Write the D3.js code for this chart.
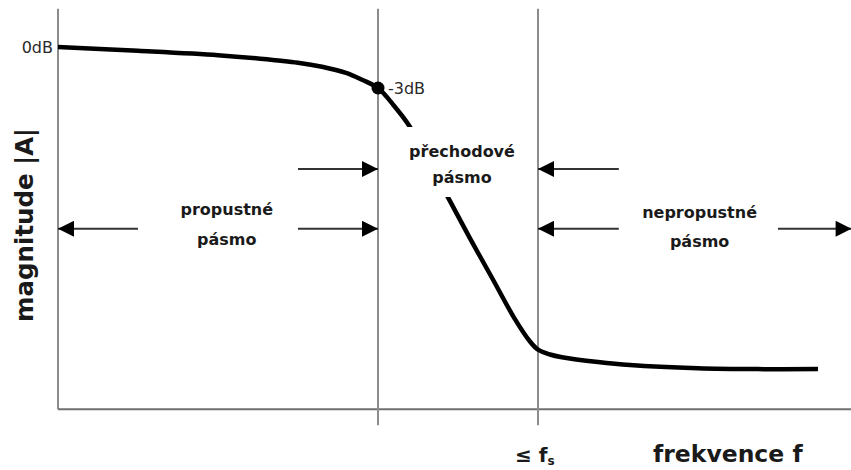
<!DOCTYPE html>
<html lang="cs">
<head>
<meta charset="UTF-8">
<title>Dolní propust – magnitudová charakteristika</title>
<script src="https://d3js.org/d3.v7.min.js"></script>
<style>
  body { margin: 0; background: #fff; }
  .lbl { font-family: "DejaVu Sans", Verdana, sans-serif; font-weight: bold; fill: #1a1a1a; }
  .small { font-family: "DejaVu Sans", Arial, sans-serif; fill: #2a2a2a; font-size: 16px; }
</style>
</head>
<body>
<div id="chart"></div>
<script>
// frequency (arbitrary units), magnitude in dB
const freq = [0, 10, 20, 25, 30, 33, 36, 38, 40, 42, 44, 46.5, 48.75, 51.5, 54.4, 57, 59, 60, 61.5, 63, 67.5, 71.5, 80, 87.5, 95];
const magDb = [0, -0.28, -0.6, -0.84, -1.15, -1.45, -1.9, -2.4, -3, -4.3, -5.85, -8.55, -11, -14, -17.05, -19.8, -21.55, -22.15, -22.5, -22.7, -23.05, -23.27, -23.5, -23.57, -23.57];
const fc = 40;   // -3 dB
const fs = 60;   // hranice nepropustného pásma

const bandLabels = [
  { lines: ["propustné", "pásmo"], f: 21.1, y: -12.3, gap: 30 },
  { lines: ["přechodové", "pásmo"], f: 50.5, y: -8.05, gap: 26 },
  { lines: ["nepropustné", "pásmo"], f: 80.2, y: -12.5, gap: 29 }
];
// arrows: y in dB, from -> to (frequency)
const arrows = [
  { y: -13.3, from: 10, to: 0 },
  { y: -13.3, from: 30, to: fc },
  { y: -8.93, from: 30, to: fc },
  { y: -8.93, from: 70.1, to: fs },
  { y: -13.3, from: 70.1, to: fs },
  { y: -13.3, from: 90, to: 99.2 }
];

const W = 851, H = 470;
const x = d3.scaleLinear().domain([0, 100]).range([58, 858]);
const y = d3.scaleLinear().domain([0, -3]).range([47, 88]);
const yBottom = -26.5, yTop = 2.8;

const svg = d3.select("#chart").append("svg")
  .attr("width", W).attr("height", H);

svg.append("defs").append("marker")
  .attr("id", "head")
  .attr("viewBox", "0 0 10 10")
  .attr("refX", 10).attr("refY", 5)
  .attr("markerWidth", 17).attr("markerHeight", 16)
  .attr("markerUnits", "userSpaceOnUse")
  .attr("orient", "auto")
  .append("path").attr("d", "M0,0L10,5L0,10Z").attr("fill", "#000");

// axes
svg.append("line")
  .attr("x1", x(0)).attr("x2", x(0))
  .attr("y1", y(yTop)).attr("y2", y(yBottom))
  .attr("stroke", "#8c8c8c").attr("stroke-width", 2);
svg.append("line")
  .attr("x1", x(0)).attr("x2", W)
  .attr("y1", y(yBottom)).attr("y2", y(yBottom))
  .attr("stroke", "#707070").attr("stroke-width", 2);

// band borders
svg.selectAll(".border")
  .data([fc, fs])
  .enter().append("line")
  .attr("class", "border")
  .attr("x1", d => x(d)).attr("x2", d => x(d))
  .attr("y1", y(yTop)).attr("y2", y(yBottom) + 16)
  .attr("stroke", "#8c8c8c").attr("stroke-width", 2);

// curve
const pts = freq.map((f, i) => [f, magDb[i]]);
svg.append("path")
  .datum(pts)
  .attr("fill", "none")
  .attr("stroke", "#000")
  .attr("stroke-width", 4.5)
  .attr("d", d3.line().x(d => x(d[0])).y(d => y(d[1])).curve(d3.curveCatmullRom.alpha(0.5)));

svg.append("circle")
  .attr("cx", x(fc)).attr("cy", y(-3)).attr("r", 6.5).attr("fill", "#000");

svg.append("text").attr("class", "small")
  .attr("x", x(fc) + 10).attr("y", y(-3) + 6).text("-3dB");
svg.append("text").attr("class", "small")
  .attr("x", x(0) - 5).attr("y", y(0) + 6)
  .attr("text-anchor", "end").text("0dB");

// arrows
svg.selectAll(".arrow")
  .data(arrows)
  .enter().append("line")
  .attr("class", "arrow")
  .attr("x1", d => x(d.from)).attr("x2", d => x(d.to))
  .attr("y1", d => y(d.y)).attr("y2", d => y(d.y))
  .attr("stroke", "#333").attr("stroke-width", 2)
  .attr("marker-end", "url(#head)");

// band labels (white box hides the curve under the middle label)
const lab = svg.selectAll(".band")
  .data(bandLabels)
  .enter().append("g")
  .attr("class", "band")
  .attr("transform", d => `translate(${x(d.f)},${y(d.y)})`);
lab.filter((d, i) => i === 1).append("rect")
  .attr("x", -58).attr("y", -30).attr("width", 132).attr("height", 70)
  .attr("fill", "#fff");
lab.each(function (d) {
  d3.select(this).selectAll("text")
    .data(d.lines)
    .enter().append("text")
    .attr("class", "lbl")
    .attr("text-anchor", "middle")
    .attr("y", (t, i) => i * d.gap)
    .style("font-size", "16px")
    .text(t => t);
});

// axis titles
const fsText = svg.append("text").attr("class", "lbl")
  .attr("x", x(fs) - 23).attr("y", 462)
  .style("font-size", "20px");
fsText.append("tspan").text("≤ f");
fsText.append("tspan").attr("dy", 3).style("font-size", "12px").text("s");

svg.append("text").attr("class", "lbl")
  .attr("x", 653).attr("y", 462)
  .style("font-size", "23.5px")
  .text("frekvence f");

svg.append("text").attr("class", "lbl")
  .attr("transform", "translate(33,225) rotate(-90)")
  .attr("text-anchor", "middle")
  .style("font-size", "24.5px")
  .text("magnitude |A|");
</script>
</body>
</html>
